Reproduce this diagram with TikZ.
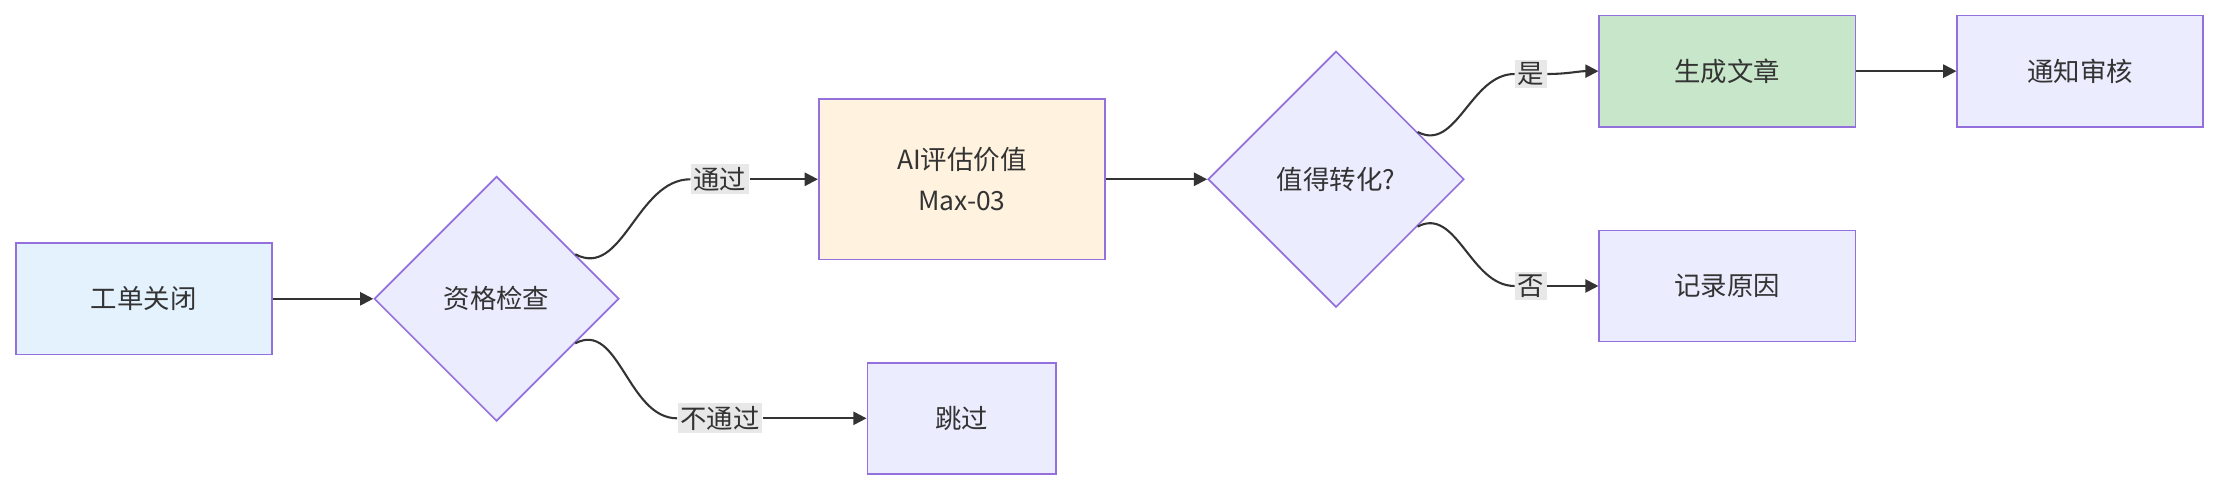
\documentclass[tikz,border=0pt]{standalone}
\usepackage{fontspec}
\setmainfont{Noto Sans CJK SC}
\usetikzlibrary{shapes.geometric,arrows.meta}
\definecolor{stk}{HTML}{9370DB}
\definecolor{nfill}{HTML}{ECECFF}
\definecolor{bfill}{HTML}{E3F2FD}
\definecolor{ofill}{HTML}{FFF3E0}
\definecolor{gfill}{HTML}{C8E6C9}
\definecolor{lbg}{HTML}{E8E8E8}
\definecolor{ln}{HTML}{333333}
\begin{document}
\begin{tikzpicture}[x=0.0265cm,y=-0.0265cm,
  every node/.style={font=\fontsize{14}{20}\selectfont,text=ln},
  box/.style={draw=stk,line width=0.9pt,fill=nfill,rectangle,inner sep=0pt,minimum height=2.07cm},
  dia/.style={draw=stk,line width=0.9pt,fill=nfill,diamond,inner sep=0pt,aspect=1},
  lab/.style={fill=lbg,inner sep=1.5pt},
  edge/.style={draw=ln,line width=1.1pt},
  arr/.style={edge,-{Triangle[length=7pt,width=7pt]}}]
\useasboundingbox (0,0) rectangle (1568,345);
\node[box,fill=bfill,minimum width=4.77cm] (a) at (101,210) {工单关闭};
\node[dia,minimum size=4.56cm] (b) at (349,210) {资格检查};
\node[box,fill=ofill,minimum width=5.33cm,minimum height=2.99cm,align=center] (c) at (676,126) {AI评估价值\\[2pt]Max-03};
\node[box,minimum width=3.52cm] (d) at (676,294) {跳过};
\node[dia,minimum size=4.77cm] (e) at (939,126) {值得转化?};
\node[box,fill=gfill,minimum width=4.77cm] (f) at (1214,50) {生成文章};
\node[box,minimum width=4.58cm] (g) at (1462,50) {通知审核};
\node[box,minimum width=4.77cm] (h) at (1214,201) {记录原因};
\node[lab] (l1) at (506,126) {通过};
\node[lab] (l2) at (506,294) {不通过};
\node[lab] (l3) at (1076,52) {是};
\node[lab] (l4) at (1076,201) {否};
\draw[arr] (a) -- (b);
\draw[edge] ([shift={(12,12)}]b.north east) to[out=-28,in=180] (l1.west);
\draw[arr] (l1.east) to[out=0,in=180] (c.west);
\draw[edge] ([shift={(12,-12)}]b.south east) to[out=28,in=180] (l2.west);
\draw[arr] (l2.east) to[out=0,in=180] (d.west);
\draw[arr] (c) -- (e);
\draw[edge] ([shift={(12,12)}]e.north east) to[out=-28,in=180] (l3.west);
\draw[arr] (l3.east) to[out=0,in=180] (f.west);
\draw[edge] ([shift={(12,-12)}]e.south east) to[out=28,in=180] (l4.west);
\draw[arr] (l4.east) to[out=0,in=180] (h.west);
\draw[arr] (f) -- (g);
\end{tikzpicture}
\end{document}
